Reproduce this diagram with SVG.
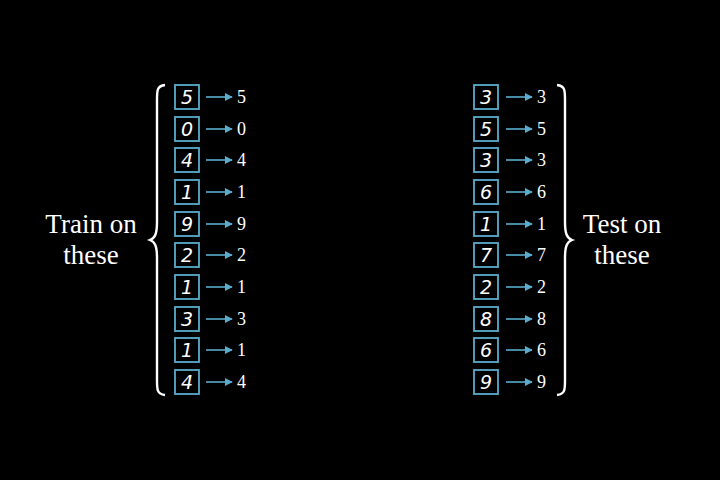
<svg xmlns="http://www.w3.org/2000/svg" width="720" height="480" viewBox="0 0 720 480">
<defs>
<style>
.box{fill:#000;stroke:#5aaccc;stroke-width:1.8}
.dig{fill:#fff;font-family:"DejaVu Sans",sans-serif;font-size:19px;text-anchor:middle;font-style:italic}
.lab{fill:#fff;font-family:"Liberation Serif",serif;font-size:18px}
.big{fill:#fff;font-family:"Liberation Serif",serif;font-size:27px;text-anchor:middle}
.arr{stroke:#5aaccc;stroke-width:1.6;fill:none;marker-end:url(#ah)}
.brace{fill:none;stroke:#fff;stroke-width:2.4}
</style>
<marker id="ah" viewBox="0 0 10 10" refX="9" refY="5" markerWidth="5" markerHeight="5" orient="auto"><path d="M0,0L10,5L0,10z" fill="#5aaccc"/></marker>
</defs>
<rect width="720" height="480" fill="#000"/>
<g id="left-brace"><path class="brace" d="M165,85 C157,86 157,90 157,100 L157,222 C157,234 155,238 150,240 C155,242 157,246 157,258 L157,380 C157,390 157,394 165,395"/></g>
<g id="right-brace"><path class="brace" d="M557,85 C565,86 565,90 565,100 L565,222 C565,234 567,238 572,240 C567,242 565,246 565,258 L565,380 C565,390 565,394 557,395"/></g>
<g id="train-label"><text class="big" x="91" y="233">Train on</text><text class="big" x="91" y="264">these</text></g>
<g id="test-label"><text class="big" x="622" y="233">Test on</text><text class="big" x="622" y="264">these</text></g>
<g id="connectors">
<line class="arr" x1="206" y1="97" x2="232" y2="97"/>
<line class="arr" x1="206" y1="129" x2="232" y2="129"/>
<line class="arr" x1="206" y1="160" x2="232" y2="160"/>
<line class="arr" x1="206" y1="192" x2="232" y2="192"/>
<line class="arr" x1="206" y1="224" x2="232" y2="224"/>
<line class="arr" x1="206" y1="255" x2="232" y2="255"/>
<line class="arr" x1="206" y1="287" x2="232" y2="287"/>
<line class="arr" x1="206" y1="319" x2="232" y2="319"/>
<line class="arr" x1="206" y1="350" x2="232" y2="350"/>
<line class="arr" x1="206" y1="382" x2="232" y2="382"/>
<line class="arr" x1="506" y1="97" x2="532" y2="97"/>
<line class="arr" x1="506" y1="129" x2="532" y2="129"/>
<line class="arr" x1="506" y1="160" x2="532" y2="160"/>
<line class="arr" x1="506" y1="192" x2="532" y2="192"/>
<line class="arr" x1="506" y1="224" x2="532" y2="224"/>
<line class="arr" x1="506" y1="255" x2="532" y2="255"/>
<line class="arr" x1="506" y1="287" x2="532" y2="287"/>
<line class="arr" x1="506" y1="319" x2="532" y2="319"/>
<line class="arr" x1="506" y1="350" x2="532" y2="350"/>
<line class="arr" x1="506" y1="382" x2="532" y2="382"/>
</g>
<g id="train-1"><rect class="box" x="175" y="85" width="24" height="24"/><text class="dig" x="187" y="104">5</text><text class="lab" x="237" y="103">5</text></g>
<g id="train-2"><rect class="box" x="175" y="117" width="24" height="24"/><text class="dig" x="187" y="136">0</text><text class="lab" x="237" y="135">0</text></g>
<g id="train-3"><rect class="box" x="175" y="148" width="24" height="24"/><text class="dig" x="187" y="167">4</text><text class="lab" x="237" y="166">4</text></g>
<g id="train-4"><rect class="box" x="175" y="180" width="24" height="24"/><text class="dig" x="187" y="199">1</text><text class="lab" x="237" y="198">1</text></g>
<g id="train-5"><rect class="box" x="175" y="212" width="24" height="24"/><text class="dig" x="187" y="231">9</text><text class="lab" x="237" y="230">9</text></g>
<g id="train-6"><rect class="box" x="175" y="243" width="24" height="24"/><text class="dig" x="187" y="262">2</text><text class="lab" x="237" y="261">2</text></g>
<g id="train-7"><rect class="box" x="175" y="275" width="24" height="24"/><text class="dig" x="187" y="294">1</text><text class="lab" x="237" y="293">1</text></g>
<g id="train-8"><rect class="box" x="175" y="307" width="24" height="24"/><text class="dig" x="187" y="326">3</text><text class="lab" x="237" y="325">3</text></g>
<g id="train-9"><rect class="box" x="175" y="338" width="24" height="24"/><text class="dig" x="187" y="357">1</text><text class="lab" x="237" y="356">1</text></g>
<g id="train-10"><rect class="box" x="175" y="370" width="24" height="24"/><text class="dig" x="187" y="389">4</text><text class="lab" x="237" y="388">4</text></g>
<g id="test-1"><rect class="box" x="474" y="85" width="24" height="24"/><text class="dig" x="486" y="104">3</text><text class="lab" x="537" y="103">3</text></g>
<g id="test-2"><rect class="box" x="474" y="117" width="24" height="24"/><text class="dig" x="486" y="136">5</text><text class="lab" x="537" y="135">5</text></g>
<g id="test-3"><rect class="box" x="474" y="148" width="24" height="24"/><text class="dig" x="486" y="167">3</text><text class="lab" x="537" y="166">3</text></g>
<g id="test-4"><rect class="box" x="474" y="180" width="24" height="24"/><text class="dig" x="486" y="199">6</text><text class="lab" x="537" y="198">6</text></g>
<g id="test-5"><rect class="box" x="474" y="212" width="24" height="24"/><text class="dig" x="486" y="231">1</text><text class="lab" x="537" y="230">1</text></g>
<g id="test-6"><rect class="box" x="474" y="243" width="24" height="24"/><text class="dig" x="486" y="262">7</text><text class="lab" x="537" y="261">7</text></g>
<g id="test-7"><rect class="box" x="474" y="275" width="24" height="24"/><text class="dig" x="486" y="294">2</text><text class="lab" x="537" y="293">2</text></g>
<g id="test-8"><rect class="box" x="474" y="307" width="24" height="24"/><text class="dig" x="486" y="326">8</text><text class="lab" x="537" y="325">8</text></g>
<g id="test-9"><rect class="box" x="474" y="338" width="24" height="24"/><text class="dig" x="486" y="357">6</text><text class="lab" x="537" y="356">6</text></g>
<g id="test-10"><rect class="box" x="474" y="370" width="24" height="24"/><text class="dig" x="486" y="389">9</text><text class="lab" x="537" y="388">9</text></g>
</svg>
